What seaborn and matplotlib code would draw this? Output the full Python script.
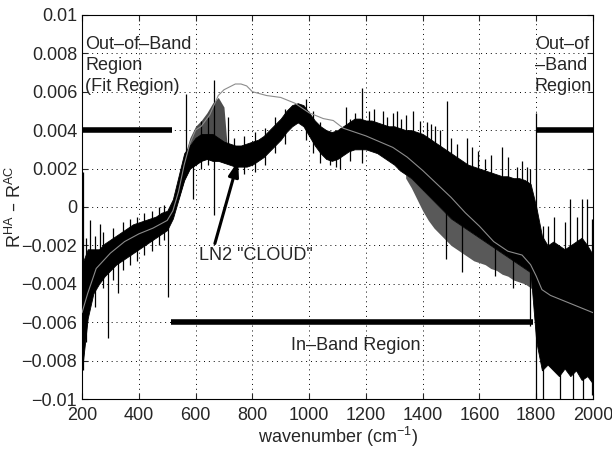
import numpy as np
import pandas as pd
import seaborn as sns
import matplotlib.pyplot as plt

sns.set_style('ticks')
plt.rcParams['font.family'] = ['Liberation Sans', 'DejaVu Sans']
plt.rcParams['mathtext.default'] = 'regular'

### Data
# measured residual, drawn as a dense noisy band (lower / upper edge every 20 cm-1)
wn = list(range(200, 2001, 20))
band_lo = [-0.0085, -0.0058, -0.0045, -0.0040, -0.0036, -0.0033, -0.0030, -0.0028, -0.0026, -0.0024,
           -0.0022, -0.0020, -0.0018, -0.0016, -0.0014, -0.0012, -0.0006, 0.0004, 0.0014, 0.0020,
           0.0022, 0.0024, 0.0025, 0.0024, 0.0024, 0.0023, 0.0022, 0.0021, 0.0021, 0.0021,
           0.0022, 0.0024, 0.0026, 0.0029, 0.0032, 0.0035, 0.0039, 0.0042, 0.0044, 0.0042,
           0.0037, 0.0032, 0.0028, 0.0025, 0.0024, 0.0025, 0.0027, 0.0029, 0.0030, 0.0030,
           0.0030, 0.0029, 0.0028, 0.0026, 0.0024, 0.0022, 0.0019, 0.0017, 0.0015, 0.0012,
           0.0009, 0.0006, 0.0003, 0.0000, -0.0003, -0.0006, -0.0008, -0.0010, -0.0012, -0.0014,
           -0.0016, -0.0018, -0.0020, -0.0022, -0.0024, -0.0026, -0.0028, -0.0030, -0.0032, -0.0034,
           -0.0070, -0.0085, -0.0082, -0.0085, -0.0088, -0.0084, -0.0088, -0.0085, -0.0090, -0.0088,
           -0.0092]
band_hi = [-0.0030, -0.0022, -0.0022, -0.0022, -0.0019, -0.0017, -0.0015, -0.0013, -0.0011, -0.0009,
           -0.0008, -0.0007, -0.0006, -0.0005, -0.0003, -0.0002, 0.0004, 0.0016, 0.0028, 0.0032,
           0.0036, 0.0038, 0.0038, 0.0038, 0.0036, 0.0034, 0.0033, 0.0032, 0.0032, 0.0033,
           0.0034, 0.0035, 0.0037, 0.0040, 0.0043, 0.0046, 0.0050, 0.0053, 0.0054, 0.0053,
           0.0049, 0.0045, 0.0042, 0.0040, 0.0039, 0.0040, 0.0042, 0.0044, 0.0046, 0.0046,
           0.0045, 0.0045, 0.0044, 0.0043, 0.0042, 0.0042, 0.0041, 0.0040, 0.0040, 0.0039,
           0.0038, 0.0036, 0.0034, 0.0032, 0.0030, 0.0028, 0.0026, 0.0024, 0.0022, 0.0021,
           0.0020, 0.0019, 0.0018, 0.0017, 0.0016, 0.0016, 0.0015, 0.0015, 0.0014, 0.0012,
           0.0000, -0.0015, -0.0020, -0.0018, -0.0020, -0.0022, -0.0020, -0.0018, -0.0016, -0.0020,
           -0.0025]

# lighter, sparser noise seen around the smooth curve
haze1_x = [540, 560, 580, 600, 620, 640, 660, 680, 700, 710]
haze1_lo = [0.0004, 0.0014, 0.0020, 0.0022, 0.0024, 0.0025, 0.0024, 0.0024, 0.0023, 0.0023]
haze1_hi = [0.0012, 0.0026, 0.0036, 0.0042, 0.0045, 0.0049, 0.0054, 0.0057, 0.0052, 0.0034]
haze2_x = list(range(1340, 1801, 20))
haze2_lo = [0.0015, 0.0010, 0.0004, -0.0002, -0.0007, -0.0011, -0.0014, -0.0017, -0.0020, -0.0022,
            -0.0024, -0.0026, -0.0028, -0.0029, -0.0030, -0.0032, -0.0033, -0.0035, -0.0036, -0.0038,
            -0.0039, -0.0040, -0.0042, -0.0045]
haze2_hi = [0.0017, 0.0015, 0.0012, 0.0009, 0.0006, 0.0003, 0.0000, -0.0003, -0.0006, -0.0008,
            -0.0010, -0.0012, -0.0014, -0.0016, -0.0018, -0.0020, -0.0022, -0.0024, -0.0026, -0.0028,
            -0.0030, -0.0032, -0.0034, -0.0040]

# isolated spikes in the measured trace
spike_x = [205, 228, 263, 292, 328, 503, 566, 590, 620, 645, 665, 714, 1073, 1130, 1160, 1186,
           1210, 1230, 1260, 1275, 1295, 1310, 1325, 1340, 1365, 1390, 1415, 1430, 1445, 1460,
           1481, 1485, 1500, 1520, 1538, 1555, 1575, 1595, 1619, 1640, 1654, 1678, 1700, 1718,
           1731, 1750, 1766, 1777, 1800, 1823, 1841, 1862, 1883, 1900, 1918, 1930, 1945, 1960,
           1965, 1978, 1995]
spike_lo = [-0.0085, -0.0030, -0.0030, -0.0068, -0.0045, -0.0047, 0.0020, 0.0004, 0.0020, 0.0022,
            -0.0004, 0.0030, 0.0022, 0.0035, 0.0035, 0.0023, 0.0035, 0.0035, 0.0035, 0.0033,
            0.0032, 0.0030, 0.0030, 0.0030, 0.0025, 0.0030, 0.0015, 0.0015, 0.0025, 0.0022,
            -0.0027, 0.0020, 0.0018, 0.0010, -0.0034, 0.0010, 0.0012, 0.0010, 0.0000, 0.0008,
            -0.0036, 0.0000, 0.0005, -0.0042, -0.0010, 0.0000, -0.0015, -0.0062, -0.0100, -0.0100,
            -0.0060, -0.0060, -0.0100, -0.0060, -0.0060, -0.0100, -0.0060, -0.0060, -0.0100, -0.0060,
            -0.0098]
spike_hi = [0.0018, -0.0007, -0.0009, -0.0025, -0.0020, -0.0002, 0.0059, 0.0025, 0.0045, 0.0047,
            0.0066, 0.0047, 0.0035, 0.0052, 0.0049, 0.0062, 0.0050, 0.0051, 0.0050, 0.0047,
            0.0049, 0.0050, 0.0046, 0.0048, 0.0050, 0.0045, 0.0044, 0.0043, 0.0042, 0.0040,
            0.0010, 0.0055, 0.0036, 0.0033, 0.0005, 0.0036, 0.0031, 0.0029, 0.0025, 0.0027,
            -0.0005, 0.0031, 0.0026, -0.0010, 0.0021, 0.0024, 0.0021, 0.0020, 0.0049, -0.0010,
            -0.0010, -0.0005, -0.0030, -0.0008, 0.0004, -0.0030, -0.0005, 0.0004, -0.0030, 0.0004,
            -0.0006]

# small flicker along the band edges
flick_x = [215, 245, 275, 310, 345, 370, 395, 420, 445, 470, 490, 735, 770, 810, 845, 880,
           915, 990, 1015, 1040, 1095, 1110, 1145]
flick_lo = [-0.0070, -0.0052, -0.0042, -0.0038, -0.0033, -0.0030, -0.0028, -0.0025, -0.0023, -0.0020,
            -0.0017, 0.0016, 0.0017, 0.0018, 0.0022, 0.0028, 0.0033, 0.0035, 0.0028, 0.0023,
            0.0021, 0.0020, 0.0024]
flick_hi = [-0.0016, -0.0015, -0.0013, -0.0011, -0.0008, -0.0006, -0.0005, -0.0003, -0.0002, 0.0000,
            0.0001, 0.0036, 0.0037, 0.0039, 0.0041, 0.0047, 0.0051, 0.0056, 0.0050, 0.0044,
            0.0040, 0.0041, 0.0046]

# smooth reference curve
smooth_x = [200, 220, 250, 300, 350, 400, 450, 500, 520, 540, 560, 580, 600, 620, 650, 680,
            700, 740, 760, 780, 800, 850, 900, 950, 1000, 1050, 1085, 1120, 1200, 1295, 1345,
            1400, 1450, 1500, 1550, 1600, 1650, 1700, 1750, 1780, 1800, 1820, 1850, 1900,
            1950, 2000]
smooth_y = [-0.0055, -0.0045, -0.0032, -0.0024, -0.0018, -0.0014, -0.0011, -0.0007, -0.0002,
            0.0008, 0.0022, 0.0033, 0.0040, 0.0042, 0.0048, 0.0058, 0.0061, 0.0064, 0.0064,
            0.0063, 0.0060, 0.0058, 0.0057, 0.0054, 0.0049, 0.0046, 0.0045, 0.0041, 0.0037,
            0.0031, 0.0026, 0.0019, 0.0012, 0.0005, -0.0003, -0.0010, -0.0018, -0.0023, -0.0025,
            -0.0030, -0.0036, -0.0043, -0.0046, -0.0049, -0.0052, -0.0055]

# band markers
oob_left = [200, 518]
oob_right = [1800, 2000]
oob_level = 0.004
inband = [515, 1790]
inband_level = -0.006

xticks = [200, 400, 600, 800, 1000, 1200, 1400, 1600, 1800, 2000]
yticks = [-0.01, -0.008, -0.006, -0.004, -0.002, 0, 0.002, 0.004, 0.006, 0.008, 0.01]
ytick_labels = ['\u22120.01', '\u22120.008', '\u22120.006', '\u22120.004', '\u22120.002', '0',
                '0.002', '0.004', '0.006', '0.008', '0.01']

smooth = pd.DataFrame({'wn': smooth_x, 'r': smooth_y})

fontsize = 13

fig = plt.figure(figsize=(6.12, 4.49), dpi=100)
ax = fig.add_axes([0.134, 0.111, 0.835, 0.856])
ax.set_axisbelow(True)

for m in ['top', 'bottom', 'left', 'right']:
    ax.spines[m].set_linewidth(0.8)
    ax.spines[m].set_color('black')

### measured trace
ax.fill_between(haze1_x, haze1_lo, haze1_hi, color='0.3', linewidth=0, zorder=2)
ax.fill_between(haze2_x, haze2_lo, haze2_hi, color='0.35', linewidth=0, zorder=2)
ax.fill_between(wn, band_lo, band_hi, color='black', linewidth=0.6, edgecolor='black', zorder=2)
ax.vlines(spike_x, spike_lo, spike_hi, color='black', linewidth=0.9, zorder=2)
ax.vlines(flick_x, flick_lo, flick_hi, color='black', linewidth=0.9, zorder=2)

### smooth curve
sns.lineplot(data=smooth, x='wn', y='r', color='0.55', linewidth=0.8, ax=ax, zorder=3)

### region bars
ax.plot(oob_left, [oob_level] * 2, color='black', linewidth=4, solid_capstyle='butt', zorder=4)
ax.plot(oob_right, [oob_level] * 2, color='black', linewidth=4, solid_capstyle='butt', zorder=4)
ax.plot(inband, [inband_level] * 2, color='black', linewidth=4, solid_capstyle='butt', zorder=4)

### labels
ax.text(212, 0.0089, 'Out\u2013of\u2013Band\nRegion\n(Fit Region)', fontsize=fontsize,
        va='top', ha='left', linespacing=1.3)
ax.text(1795, 0.0089, 'Out\u2013of\n\u2013Band\nRegion', fontsize=fontsize,
        va='top', ha='left', linespacing=1.3)
ax.text(1165, -0.0072, 'In\u2013Band Region', fontsize=fontsize, va='center', ha='center')
ax.text(612, -0.0025, 'LN2 "CLOUD"', fontsize=fontsize, va='center', ha='left')
ax.annotate('', xy=(750, 0.0024), xytext=(668, -0.0019),
            arrowprops=dict(arrowstyle='-|>,head_length=0.9,head_width=0.3', color='black',
                            linewidth=2.2, shrinkA=0, shrinkB=0))

ax.set_xlim(200, 2000)
ax.set_ylim(-0.01, 0.01)
ax.set_xticks(xticks)
ax.set_yticks(yticks)
ax.set_yticklabels(ytick_labels)
ax.tick_params(direction='in', top=True, right=True, labelsize=fontsize, length=4, width=0.8)
ax.tick_params(axis='x', pad=6)
ax.grid(True, linestyle=(0, (1, 4)), color='black', linewidth=0.7)

ax.set_xlabel('wavenumber (cm$^{-1}$)', fontsize=fontsize, labelpad=0)
ax.set_ylabel('R$^{HA}$ \u2013 R$^{AC}$', fontsize=fontsize, labelpad=-3)

fig.savefig('out.png', dpi=100)
